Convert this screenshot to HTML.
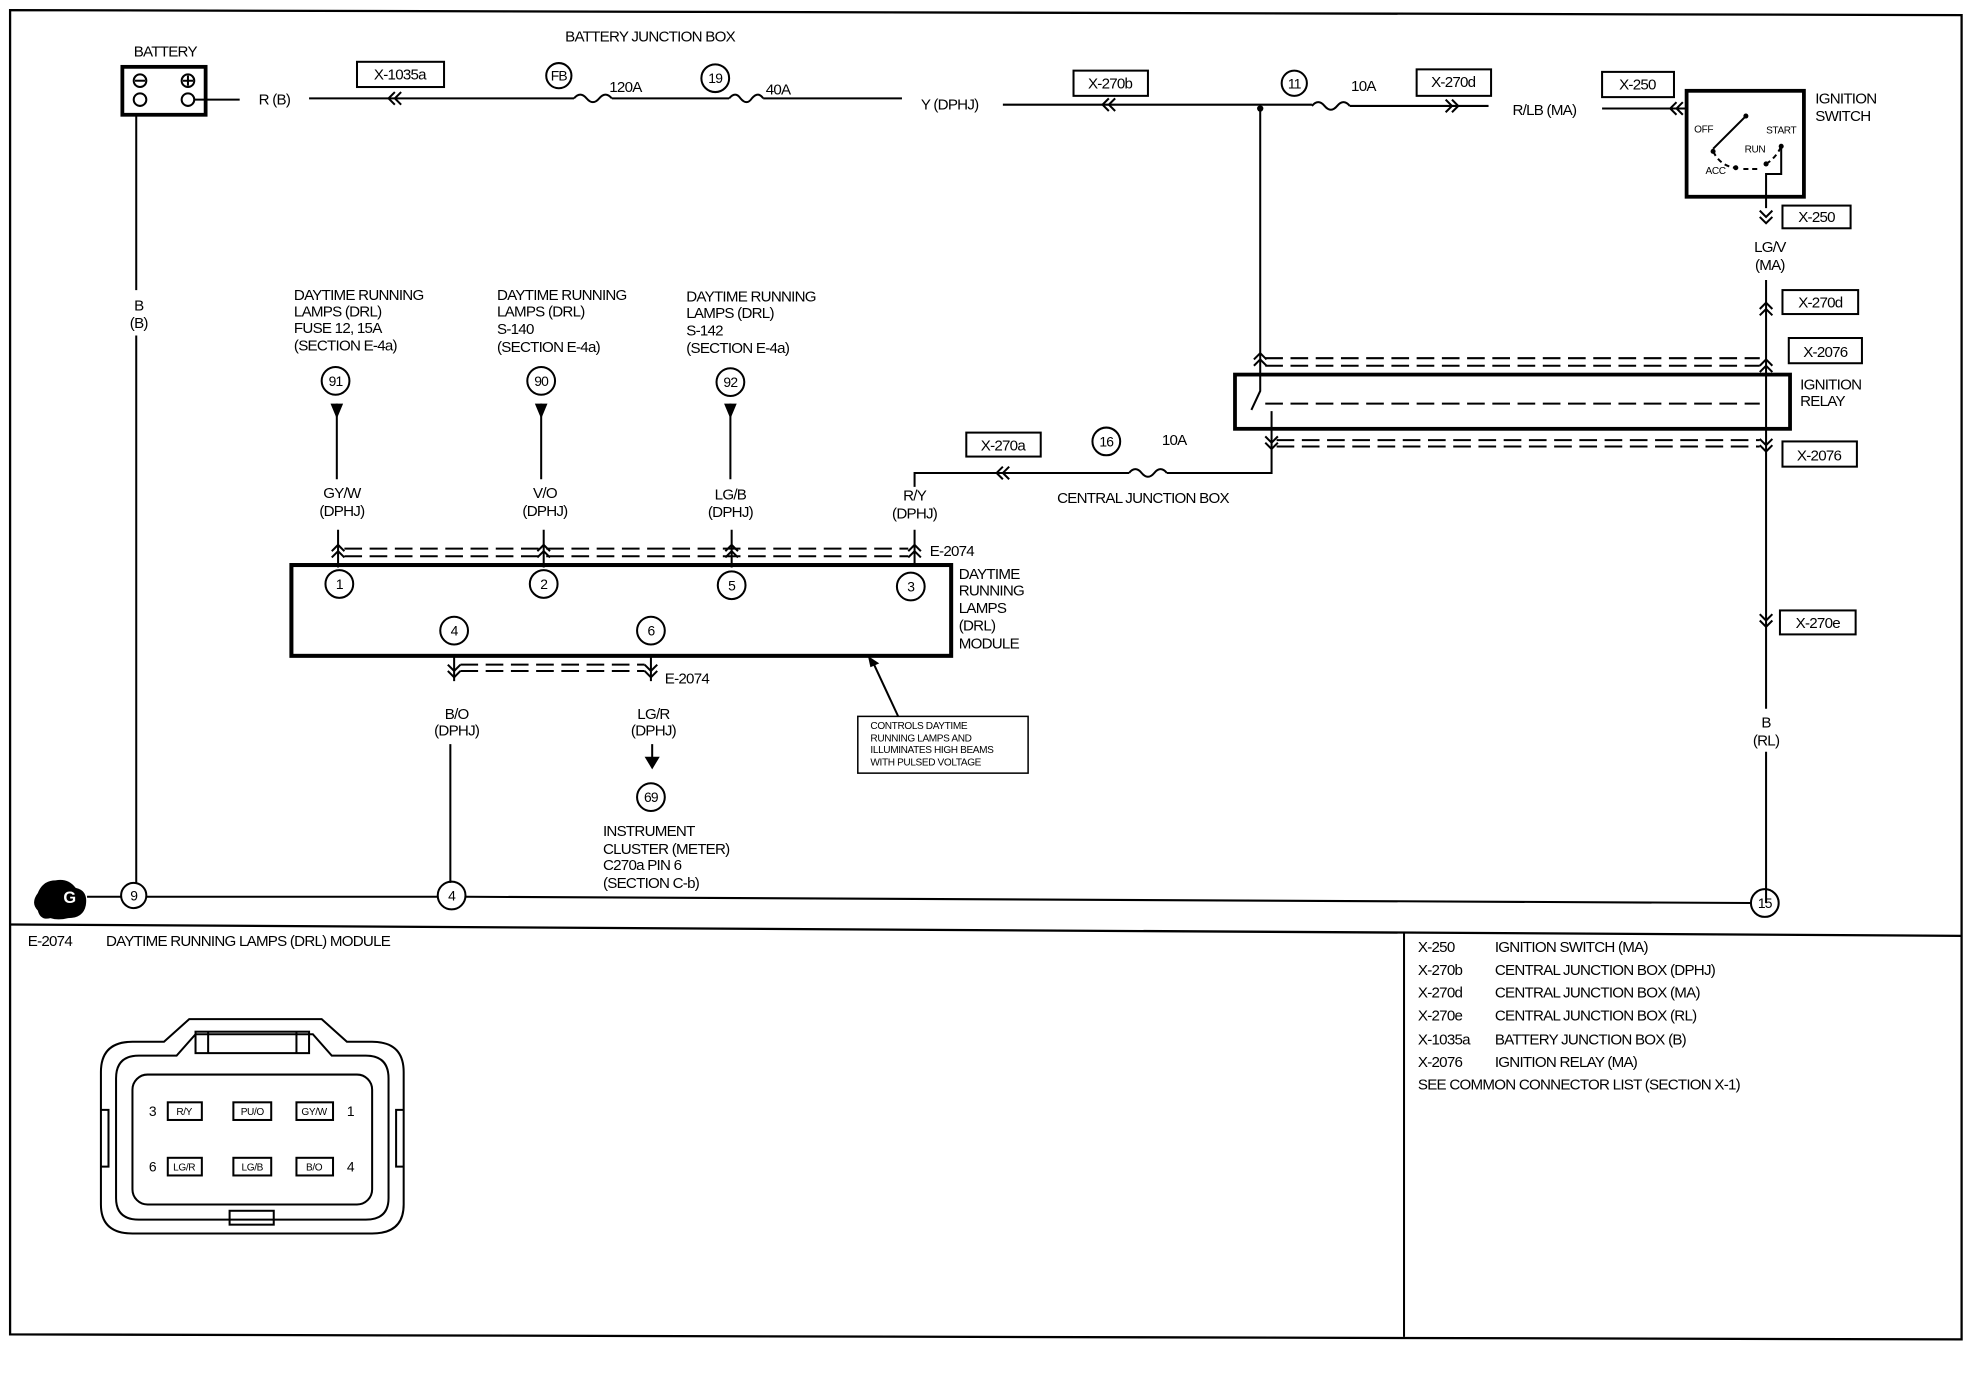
<!DOCTYPE html>
<html><head><meta charset="utf-8"><style>
html,body{margin:0;padding:0;background:#fff}
svg{display:block}
text{font-family:"Liberation Sans",sans-serif;font-size:12px;fill:#000;letter-spacing:-0.6px}
.s{font-size:8px;letter-spacing:-0.3px}
.m{font-size:11px}
</style></head><body>
<svg width="1978" height="1376" viewBox="0 0 1568 1091" preserveAspectRatio="none" xmlns="http://www.w3.org/2000/svg">
<g fill="none" stroke="#000" stroke-width="1.6">
<path d="M8 8 L1555 12 L1555 1062 L8 1058 Z" stroke-width="1.8"/>
<path d="M8 733 L1555 742" stroke-width="1.8"/>
<path d="M1113 740 L1113 1060"/>
<rect x="97" y="53" width="66" height="38" stroke-width="3"/>
<circle cx="111" cy="64" r="5"/><path d="M107 64 h8"/>
<circle cx="149" cy="64" r="5"/><path d="M145 64 h8 M149 60 v8"/>
<circle cx="111" cy="79" r="5"/><circle cx="149" cy="79" r="5"/>
<path d="M154 79 H190"/>
<path d="M108 91 V230 M108 266 V700"/>
<path d="M245 78 H455 M485 78 H578 M605 78 H715"/>
<path d="M455 78 q5 -6 10 0 q5 6 10 0 q5 -6 10 0"/>
<path d="M578 78 q5 -6 9 0 q5 6 9 0 q5 -6 9 0"/>
<path d="M313 73 l-5 5 l5 5 M318 73 l-5 5 l5 5"/>
<rect x="283" y="49" width="69" height="20"/>
<circle cx="443" cy="60" r="10"/>
<circle cx="567" cy="62" r="11"/>
<path d="M795 83 H1040 M1070 84 H1180 M1270 86 H1337"/>
<path d="M1040 84 q5 -6 10 0 q5 6 10 0 q5 -6 10 0"/>
<path d="M879 78 l-5 5 l5 5 M884 78 l-5 5 l5 5"/>
<path d="M1146 79 l5 5 l-5 5 M1151 79 l5 5 l-5 5"/>
<path d="M1329 81 l-5 5 l5 5 M1334 81 l-5 5 l5 5"/>
<rect x="851" y="56" width="59" height="20"/>
<circle cx="1026" cy="66" r="10"/>
<rect x="1123" y="55" width="59" height="21"/>
<rect x="1270" y="57" width="57" height="20"/>
<rect x="1337" y="72" width="93" height="84" stroke-width="3"/>
<path d="M1384 92 L1358 118"/>
<path d="M1358 120 q6 12 18 13 M1382 134 h14 M1400 130 q8 -5 12 -14" stroke-dasharray="4 3"/>
<path d="M1412 116 V138 H1400 V165"/>
<path d="M1395 167 l5 5 l5 -5 M1395 172 l5 5 l5 -5"/>
<rect x="1413" y="163" width="54" height="18"/>
<path d="M1400 222 V562 M1400 596 V716"/>
<path d="M1395 245 l5 -5 l5 5 M1395 250 l5 -5 l5 5"/>
<rect x="1413" y="230" width="60" height="19"/>
<path d="M1395 290 l5 -5 l5 5 M1395 295 l5 -5 l5 5"/>
<rect x="1418" y="268" width="58" height="20"/>
<path d="M1395 348 l5 5 l5 -5 M1395 353 l5 5 l5 -5"/>
<rect x="1413" y="350" width="59" height="20"/>
<path d="M1395 487 l5 5 l5 -5 M1395 492 l5 5 l5 -5"/>
<rect x="1411" y="484" width="60" height="19"/>
<rect x="979" y="297" width="440" height="43" stroke-width="3"/>
<path d="M1003 284 H1395 M1003 290 H1395 M1003 320 H1395 M1012 349 H1395 M1012 354 H1395" stroke-dasharray="14 6"/>
<path d="M999 86 V310 L992 325"/>
<path d="M994 285 l5 -5 l5 5 M994 290 l5 -5 l5 5"/>
<path d="M1008 326 V375 H925 M895 375 H725 V386 M725 420 V448"/>
<path d="M1003 346 l5 5 l5 -5 M1003 351 l5 5 l5 -5"/>
<path d="M895 375 q5 -6 10 0 q5 6 10 0 q5 -6 10 0"/>
<path d="M795 370 l-5 5 l5 5 M800 370 l-5 5 l5 5"/>
<rect x="766" y="343" width="59" height="19"/>
<circle cx="877" cy="350" r="11"/>
<circle cx="266" cy="302" r="11"/><circle cx="429" cy="302" r="11"/><circle cx="579" cy="303" r="11"/>
<path d="M267 320 V380 M429 320 V380 M579 320 V380"/>
<path d="M268 420 V450 M431 420 V450 M580 420 V450"/>
<path d="M263 437 l5 -5 l5 5 M263 442 l5 -5 l5 5 M426 437 l5 -5 l5 5 M426 442 l5 -5 l5 5 M575 437 l5 -5 l5 5 M575 442 l5 -5 l5 5 M720 437 l5 -5 l5 5 M720 442 l5 -5 l5 5"/>
<path d="M273 435 H720 M273 441 H720" stroke-dasharray="14 6"/>
<rect x="231" y="448" width="523" height="72" stroke-width="3.2"/>
<circle cx="269" cy="463" r="11"/><circle cx="431" cy="463" r="11"/><circle cx="580" cy="464" r="11"/><circle cx="722" cy="465" r="11"/>
<circle cx="360" cy="500" r="11"/><circle cx="516" cy="500" r="11"/>
<path d="M355 527 l5 5 l5 -5 M355 532 l5 5 l5 -5 M511 527 l5 5 l5 -5 M511 532 l5 5 l5 -5"/>
<path d="M365 527 H511 M365 532 H511" stroke-dasharray="14 6"/>
<path d="M360 520 V540 M516 520 V540"/>
<path d="M357 590 V700"/>
<circle cx="358" cy="710" r="11"/>
<path d="M517 590 V604"/>
<circle cx="516" cy="632" r="11"/>
<rect x="680" y="568" width="135" height="45" stroke-width="1.2"/>
<path d="M712 568 L692 525"/>
<circle cx="106" cy="710" r="10"/>
<path d="M69 711 H96 M116 711 L347 711 M369 711 L1388 716"/>
<circle cx="1399" cy="716" r="11"/>
<path d="M80 850 Q80 826 105 826 L130 826 L150 808 L255 808 L275 826 L295 826 Q320 826 320 850 L320 955 Q320 978 295 978 L105 978 Q80 978 80 955 Z"/>
<path d="M92 855 Q92 837 110 837 L140 837 L155 820 L248 820 L263 837 L290 837 Q308 837 308 855 L308 950 Q308 967 290 967 L110 967 Q92 967 92 950 Z"/>
<rect x="105" y="852" width="190" height="103" rx="12"/>
<rect x="155" y="818" width="90" height="17"/>
<path d="M165 818 V835 M235 818 V835"/>
<path d="M80 880 h6 v45 h-6 M320 880 h-6 v45 h6"/>
<rect x="182" y="960" width="35" height="11"/>
<rect x="133" y="874" width="27" height="14"/><rect x="185" y="874" width="30" height="14"/><rect x="235" y="874" width="29" height="14"/>
<rect x="133" y="918" width="27" height="14"/><rect x="185" y="918" width="30" height="14"/><rect x="235" y="918" width="29" height="14"/>
</g>
<g fill="#000">
<circle cx="999" cy="86" r="2.5"/>
<path d="M262 320 h10 l-5 12 z M424 320 h10 l-5 12 z M574 320 h10 l-5 12 z"/>
<path d="M511 600 h12 l-6 10 z"/>
<path d="M688 520 l9 6 l-7 3 z"/>
<path d="M30 722 q-6 -6 0 -14 q4 -10 14 -10 q10 -2 16 6 q10 2 8 14 q-2 10 -14 10 q-8 2 -14 0 q-8 2 -10 -6 z"/>
<circle cx="1384" cy="92" r="2"/><circle cx="1358" cy="120" r="2"/><circle cx="1376" cy="133" r="2"/><circle cx="1400" cy="130" r="2"/><circle cx="1412" cy="116" r="2"/>
</g>
<text x="55" y="716" text-anchor="middle" style="fill:#fff;font-weight:bold;font-size:13px">G</text>
<text x="106" y="45">BATTERY</text>
<text x="205" y="83">R (B)</text>
<text x="448" y="33">BATTERY JUNCTION BOX</text>
<text x="317" y="63" text-anchor="middle">X-1035a</text>
<text x="443" y="64" text-anchor="middle" class="m">FB</text>
<text x="483" y="73">120A</text>
<text x="567" y="66" text-anchor="middle" class="m">19</text>
<text x="607" y="75">40A</text>
<text x="730" y="87">Y (DPHJ)</text>
<text x="880" y="70" text-anchor="middle">X-270b</text>
<text x="1026" y="70" text-anchor="middle" class="m">11</text>
<text x="1071" y="72">10A</text>
<text x="1152" y="69" text-anchor="middle">X-270d</text>
<text x="1199" y="91">R/LB (MA)</text>
<text x="1298" y="71" text-anchor="middle">X-250</text>
<text x="1439" y="82">IGNITION</text><text x="1439" y="96">SWITCH</text>
<text x="1343" y="105" class="s">OFF</text><text x="1400" y="106" class="s">START</text><text x="1383" y="121" class="s">RUN</text><text x="1352" y="138" class="s">ACC</text>
<text x="1440" y="176" text-anchor="middle">X-250</text>
<text x="1403" y="200" text-anchor="middle">LG/V</text><text x="1403" y="214" text-anchor="middle">(MA)</text>
<text x="1443" y="244" text-anchor="middle">X-270d</text>
<text x="1447" y="283" text-anchor="middle">X-2076</text>
<text x="1427" y="309">IGNITION</text><text x="1427" y="322">RELAY</text>
<text x="1442" y="365" text-anchor="middle">X-2076</text>
<text x="1441" y="498" text-anchor="middle">X-270e</text>
<text x="1400" y="577" text-anchor="middle">B</text><text x="1400" y="591" text-anchor="middle">(RL)</text>
<text x="1399" y="720" text-anchor="middle" class="m">15</text>
<text x="110" y="246" text-anchor="middle">B</text><text x="110" y="260" text-anchor="middle">(B)</text>
<text x="106" y="714" text-anchor="middle" class="m">9</text>
<text x="795" y="357" text-anchor="middle">X-270a</text>
<text x="877" y="354" text-anchor="middle" class="m">16</text>
<text x="921" y="353">10A</text>
<text x="838" y="399">CENTRAL JUNCTION BOX</text>
<text x="233" y="238">DAYTIME RUNNING</text><text x="233" y="251">LAMPS (DRL)</text><text x="233" y="264">FUSE 12, 15A</text><text x="233" y="278">(SECTION E-4a)</text>
<text x="394" y="238">DAYTIME RUNNING</text><text x="394" y="251">LAMPS (DRL)</text><text x="394" y="265">S-140</text><text x="394" y="279">(SECTION E-4a)</text>
<text x="544" y="239">DAYTIME RUNNING</text><text x="544" y="252">LAMPS (DRL)</text><text x="544" y="266">S-142</text><text x="544" y="280">(SECTION E-4a)</text>
<text x="266" y="306" text-anchor="middle" class="m">91</text><text x="429" y="306" text-anchor="middle" class="m">90</text><text x="579" y="307" text-anchor="middle" class="m">92</text>
<text x="271" y="395" text-anchor="middle">GY/W</text><text x="271" y="409" text-anchor="middle">(DPHJ)</text>
<text x="432" y="395" text-anchor="middle">V/O</text><text x="432" y="409" text-anchor="middle">(DPHJ)</text>
<text x="579" y="396" text-anchor="middle">LG/B</text><text x="579" y="410" text-anchor="middle">(DPHJ)</text>
<text x="725" y="397" text-anchor="middle">R/Y</text><text x="725" y="411" text-anchor="middle">(DPHJ)</text>
<text x="737" y="441">E-2074</text>
<text x="269" y="467" text-anchor="middle" class="m">1</text><text x="431" y="467" text-anchor="middle" class="m">2</text><text x="580" y="468" text-anchor="middle" class="m">5</text><text x="722" y="469" text-anchor="middle" class="m">3</text>
<text x="360" y="504" text-anchor="middle" class="m">4</text><text x="516" y="504" text-anchor="middle" class="m">6</text>
<text x="760" y="459">DAYTIME</text><text x="760" y="472">RUNNING</text><text x="760" y="486">LAMPS</text><text x="760" y="500">(DRL)</text><text x="760" y="514">MODULE</text>
<text x="527" y="542">E-2074</text>
<text x="362" y="570" text-anchor="middle">B/O</text><text x="362" y="583" text-anchor="middle">(DPHJ)</text>
<text x="518" y="570" text-anchor="middle">LG/R</text><text x="518" y="583" text-anchor="middle">(DPHJ)</text>
<text x="516" y="636" text-anchor="middle" class="m">69</text>
<text x="478" y="663">INSTRUMENT</text><text x="478" y="677">CLUSTER (METER)</text><text x="478" y="690">C270a PIN 6</text><text x="478" y="704">(SECTION C-b)</text>
<text x="358" y="714" text-anchor="middle" class="m">4</text>
<text x="690" y="578" class="s">CONTROLS DAYTIME</text><text x="690" y="588" class="s">RUNNING LAMPS AND</text><text x="690" y="597" class="s">ILLUMINATES HIGH BEAMS</text><text x="690" y="607" class="s">WITH PULSED VOLTAGE</text>
<text x="22" y="750">E-2074</text><text x="84" y="750">DAYTIME RUNNING LAMPS (DRL) MODULE</text>
<text x="1124" y="755">X-250</text><text x="1185" y="755">IGNITION SWITCH (MA)</text>
<text x="1124" y="773">X-270b</text><text x="1185" y="773">CENTRAL JUNCTION BOX (DPHJ)</text>
<text x="1124" y="791">X-270d</text><text x="1185" y="791">CENTRAL JUNCTION BOX (MA)</text>
<text x="1124" y="809">X-270e</text><text x="1185" y="809">CENTRAL JUNCTION BOX (RL)</text>
<text x="1124" y="828">X-1035a</text><text x="1185" y="828">BATTERY JUNCTION BOX (B)</text>
<text x="1124" y="846">X-2076</text><text x="1185" y="846">IGNITION RELAY (MA)</text>
<text x="1124" y="864">SEE COMMON CONNECTOR LIST (SECTION X-1)</text>
<text x="118" y="885" class="m">3</text><text x="275" y="885" class="m">1</text><text x="118" y="929" class="m">6</text><text x="275" y="929" class="m">4</text>
<text x="146" y="884" text-anchor="middle" class="s">R/Y</text><text x="200" y="884" text-anchor="middle" class="s">PU/O</text><text x="249" y="884" text-anchor="middle" class="s">GY/W</text>
<text x="146" y="928" text-anchor="middle" class="s">LG/R</text><text x="200" y="928" text-anchor="middle" class="s">LG/B</text><text x="249" y="928" text-anchor="middle" class="s">B/O</text>
</svg>
</body></html>
